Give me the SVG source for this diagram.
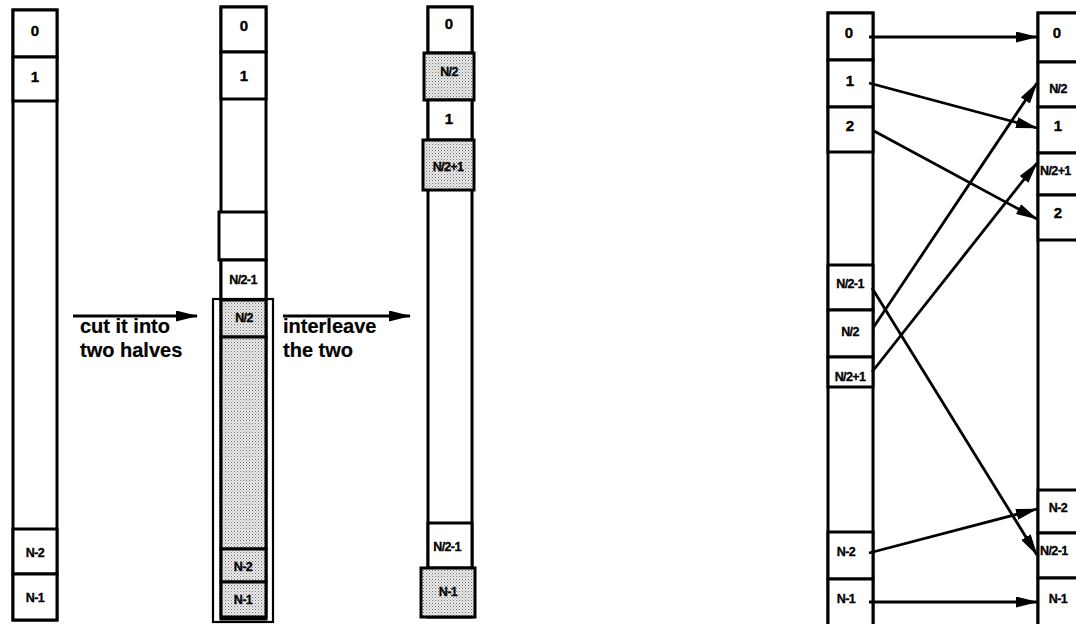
<svg xmlns="http://www.w3.org/2000/svg" width="1076" height="624" viewBox="0 0 1076 624">
<defs>
<pattern id="dots" width="3" height="3" patternUnits="userSpaceOnUse">
<rect width="3" height="3" fill="#eeeeee"/>
<rect width="1" height="1" fill="#6a6a6a"/>
<rect x="1.5" y="1.5" width="1" height="1" fill="#8a8a8a"/>
</pattern>
<marker id="ah" markerWidth="22" markerHeight="11" refX="21" refY="5.5" orient="auto" markerUnits="userSpaceOnUse">
<path d="M0,0 L22,5.5 L0,11 Z" fill="#000"/>
</marker>
</defs>
<style>
.c{fill:#fff;stroke:#000;stroke-width:3}
.s{fill:url(#dots);stroke:#000;stroke-width:3}
.o{fill:none;stroke:#000;stroke-width:2.2}
.t{font-family:"Liberation Sans",Arial,sans-serif;font-weight:bold;font-size:15px;text-anchor:middle;fill:#000;stroke:#000;stroke-width:0.4}
.m{font-family:"Liberation Sans",Arial,sans-serif;font-weight:bold;font-size:12.5px;text-anchor:middle;fill:#000;letter-spacing:-0.6px;stroke:#000;stroke-width:0.3}
.l{font-family:"Liberation Sans",Arial,sans-serif;font-weight:bold;font-size:20px;fill:#000;stroke:#000;stroke-width:0.2}
.a{stroke:#000;stroke-width:2.8;fill:none;marker-end:url(#ah)}
</style>
<rect width="1076" height="624" fill="#fff"/>

<g id="col1">
<rect class="c" x="13" y="10" width="44" height="610"/>
<rect class="c" x="13" y="10" width="44" height="47"/>
<rect class="c" x="13" y="57" width="44" height="44"/>
<rect class="c" x="13" y="529" width="44" height="45"/>
<rect class="c" x="13" y="574" width="44" height="46"/>
<text class="t" x="35" y="36">0</text>
<text class="t" x="35" y="82">1</text>
<text class="m" x="35" y="557">N-2</text>
<text class="m" x="35" y="602">N-1</text>
</g>

<g id="col2">
<rect class="c" x="221" y="7" width="45" height="612"/>
<rect class="c" x="221" y="7" width="45" height="45"/>
<rect class="c" x="221" y="52" width="45" height="47"/>
<rect class="c" x="219" y="212" width="47" height="48"/>
<rect class="c" x="221" y="260" width="45" height="40"/>
<rect class="s" x="221" y="300" width="45" height="37"/>
<rect class="s" x="221" y="337" width="45" height="212"/>
<rect class="s" x="221" y="549" width="45" height="33"/>
<rect class="s" x="221" y="582" width="45" height="35"/>
<rect class="o" x="213" y="299" width="60" height="323"/>
<text class="t" x="244" y="31">0</text>
<text class="t" x="244" y="81">1</text>
<text class="m" x="243" y="284">N/2-1</text>
<text class="m" x="244" y="322">N/2</text>
<text class="m" x="243" y="571">N-2</text>
<text class="m" x="243" y="604">N-1</text>
</g>

<g id="col3">
<rect class="c" x="428" y="7" width="44" height="610"/>
<rect class="c" x="428" y="7" width="44" height="46"/>
<rect class="s" x="424" y="53" width="50" height="47"/>
<rect class="c" x="428" y="100" width="44" height="40"/>
<rect class="s" x="423" y="140" width="51" height="50"/>
<rect class="c" x="428" y="523" width="44" height="45"/>
<rect class="s" x="421" y="568" width="54" height="49"/>
<text class="t" x="449" y="29">0</text>
<text class="m" x="449" y="76">N/2</text>
<text class="t" x="449" y="124">1</text>
<text class="m" x="448" y="171">N/2+1</text>
<text class="m" x="447" y="551">N/2-1</text>
<text class="m" x="448" y="596">N-1</text>
</g>

<g id="labels">
<text class="l" x="80" y="333">cut it into</text>
<text class="l" x="80" y="357">two halves</text>
<text class="l" x="283" y="333">interleave</text>
<text class="l" x="283" y="357">the two</text>
</g>

<g id="rleft">
<rect class="c" x="828" y="13" width="45" height="620"/>
<rect class="c" x="828" y="13" width="45" height="47"/>
<rect class="c" x="828" y="60" width="45" height="47"/>
<rect class="c" x="828" y="107" width="45" height="45"/>
<rect class="c" x="828" y="265" width="45" height="45"/>
<rect class="c" x="828" y="310" width="45" height="47"/>
<rect class="c" x="828" y="357" width="45" height="30"/>
<rect class="c" x="828" y="532" width="45" height="47"/>
<rect class="c" x="828" y="579" width="45" height="54"/>
<text class="t" x="849" y="38">0</text>
<text class="t" x="850" y="86">1</text>
<text class="t" x="850" y="131">2</text>
<text class="m" x="850" y="288">N/2-1</text>
<text class="m" x="850" y="336">N/2</text>
<text class="m" x="850" y="381">N/2+1</text>
<text class="m" x="846" y="556">N-2</text>
<text class="m" x="846" y="603">N-1</text>
</g>

<g id="rright">
<rect class="c" x="1038" y="13" width="60" height="620"/>
<rect class="c" x="1038" y="13" width="60" height="49"/>
<rect class="c" x="1038" y="62" width="60" height="45"/>
<rect class="c" x="1038" y="107" width="60" height="46"/>
<rect class="c" x="1038" y="153" width="60" height="42"/>
<rect class="c" x="1038" y="195" width="60" height="45"/>
<rect class="c" x="1038" y="490" width="60" height="43"/>
<rect class="c" x="1038" y="533" width="60" height="45"/>
<rect class="c" x="1038" y="578" width="60" height="55"/>
<text class="t" x="1057" y="38">0</text>
<text class="m" x="1058" y="93">N/2</text>
<text class="t" x="1058" y="131">1</text>
<text class="m" x="1040" y="175" style="text-anchor:start">N/2+1</text>
<text class="t" x="1058" y="218">2</text>
<text class="m" x="1058" y="512">N-2</text>
<text class="m" x="1040" y="555" style="text-anchor:start">N/2-1</text>
<text class="m" x="1058" y="603">N-1</text>
</g>

<g id="connectors">
<line class="a" x1="73" y1="316" x2="197" y2="316"/>
<line class="a" x1="283" y1="316" x2="410" y2="316"/>
<line class="a" x1="869" y1="37" x2="1037" y2="37"/>
<line class="a" x1="869" y1="83" x2="1037" y2="128"/>
<line class="a" x1="874" y1="131" x2="1037" y2="219"/>
<line class="a" x1="873" y1="328" x2="1037" y2="83"/>
<line class="a" x1="872" y1="372" x2="1037" y2="163"/>
<line class="a" x1="872" y1="288" x2="1037" y2="555"/>
<line class="a" x1="869" y1="553" x2="1037" y2="509"/>
<line class="a" x1="869" y1="602" x2="1037" y2="602"/>
</g>
</svg>
